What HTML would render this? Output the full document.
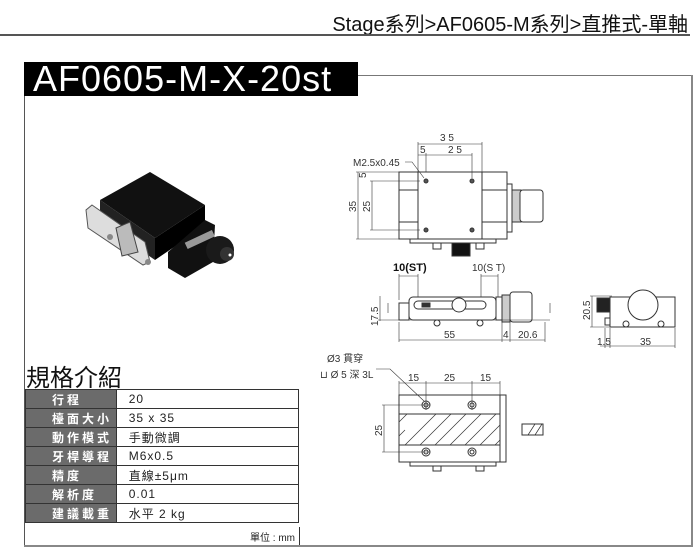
<!DOCTYPE html>
<html><head><meta charset="utf-8"><style>
body{margin:0;width:700px;height:553px;background:#fff;position:relative;overflow:hidden;font-family:"Liberation Sans","Noto Sans CJK TC",sans-serif}
.abs{position:absolute}
table{border-collapse:collapse}
td{height:18px;padding:0;font-size:12px;border:1px solid #333}
td.l{background:#6b6b6b;color:#fff;font-weight:bold;letter-spacing:3px;padding-left:26px;width:64px}
td.v{padding-left:12px;width:170px;color:#222;letter-spacing:1px}
</style></head><body>
<div class="abs" style="right:12px;top:8px;font-size:20px;color:#111">Stage系列&gt;AF0605-M系列&gt;直推式-單軸</div>
<div class="abs" style="left:0;top:34px;width:690px;height:2px;background:#555"></div>
<div class="abs" style="left:24px;top:62px;width:334px;height:34px;background:#000;color:#fff;font-size:36px;line-height:34px;padding-left:9px;box-sizing:border-box;letter-spacing:1px;white-space:nowrap;overflow:hidden">AF0605-M-X-20st</div>
<div class="abs" style="left:358px;top:75px;width:334px;height:1px;background:#777"></div>
<div class="abs" style="left:691px;top:75px;width:2px;height:472px;background:#888"></div>
<div class="abs" style="left:24px;top:96px;width:1px;height:451px;background:#555"></div>
<div class="abs" style="left:24px;top:545px;width:669px;height:2px;background:#888"></div>
<div class="abs" style="left:26px;top:358px;font-size:24px;color:#111">規格介紹</div>
<table class="abs" style="left:25px;top:389px;width:274px">
<tr><td class="l">行程</td><td class="v">20</td></tr>
<tr><td class="l">檯面大小</td><td class="v">35 x 35</td></tr>
<tr><td class="l">動作模式</td><td class="v">手動微調</td></tr>
<tr><td class="l">牙桿導程</td><td class="v">M6x0.5</td></tr>
<tr><td class="l">精度</td><td class="v">直線±5μm</td></tr>
<tr><td class="l">解析度</td><td class="v">0.01</td></tr>
<tr><td class="l">建議載重</td><td class="v">水平 2 kg</td></tr>
</table>
<div class="abs" style="left:25px;top:527px;width:274px;height:18px;border-right:1px solid #333"></div>
<div class="abs" style="left:250px;top:529px;font-size:10px;color:#222">單位 : mm</div>
<svg class="abs" style="left:0;top:0" width="700" height="553" font-family="Liberation Sans, sans-serif">
<!-- photo -->
<g>
<polygon points="100,200 150,172 205,205 155,238" fill="#111"/>
<polygon points="100,200 155,238 155,260 100,222" fill="#222"/>
<polygon points="155,238 205,205 205,226 155,260" fill="#000"/>
<polygon points="92,205 145,242 150,262 143,265 88,228 86,210" fill="#ddd" stroke="#555"/>
<polygon points="116,228 130,222 138,252 122,256" fill="#bbb" stroke="#444"/>
<circle cx="110" cy="237" r="3" fill="#888"/><circle cx="148" cy="262" r="3" fill="#888"/>
<polygon points="168,252 205,220 215,225 213,262 185,278 168,268" fill="#111"/>
<rect x="185" y="236" width="30" height="7" fill="#999" transform="rotate(-25 200 240)"/>
<ellipse cx="220" cy="250" rx="14" ry="14" fill="#1a1a1a"/>
<ellipse cx="227" cy="254" rx="7" ry="7" fill="#333"/>
<circle cx="230" cy="255" r="1.5" fill="#fff"/>
</g>
<g stroke="#333" fill="none" stroke-width="1">
<rect x="399" y="172" width="108" height="67" fill="#fff"/>
<rect x="418" y="172" width="64" height="67"/>
<line x1="399" y1="190" x2="418" y2="190"/><line x1="399" y1="222" x2="418" y2="222"/>
<line x1="482" y1="190" x2="507" y2="190"/><line x1="482" y1="222" x2="507" y2="222"/>
<rect x="507" y="184" width="5" height="48"/>
<rect x="512" y="190" width="9" height="32" fill="#ccc"/>
<rect x="520" y="190" width="23" height="32" rx="3" fill="#fff"/>
<rect x="410" y="239" width="86" height="4"/>
<rect x="433" y="243" width="8" height="6"/><rect x="476" y="243" width="8" height="6"/>
<rect x="452" y="243" width="18" height="13" fill="#111"/>
<g fill="#555"><circle cx="426" cy="181" r="2"/><circle cx="472" cy="181" r="2"/><circle cx="426" cy="230" r="2"/><circle cx="472" cy="230" r="2"/></g>
<g stroke-width="0.6"><line x1="418" y1="144" x2="482" y2="144"/><line x1="418" y1="142" x2="418" y2="172"/><line x1="482" y1="142" x2="482" y2="172"/>
<line x1="418" y1="155" x2="472" y2="155"/><line x1="426" y1="153" x2="426" y2="172"/><line x1="472" y1="153" x2="472" y2="178"/>
<line x1="358" y1="172" x2="358" y2="239"/><line x1="356" y1="172" x2="399" y2="172"/><line x1="356" y1="239" x2="399" y2="239"/>
<line x1="372" y1="181" x2="372" y2="230"/><line x1="370" y1="181" x2="420" y2="181"/><line x1="370" y1="230" x2="420" y2="230"/>
<polyline points="405,162 412,162 424,178"/></g>
<rect x="409" y="297" width="87" height="23" rx="4" fill="#fff"/>
<rect x="399" y="303" width="10" height="17"/>
<rect x="496" y="297" width="6" height="23"/>
<rect x="502" y="295" width="8" height="27" fill="#ccc"/>
<rect x="510" y="292" width="22" height="30" rx="3"/>
<rect x="414" y="301" width="72" height="8" rx="4"/>
<rect x="422" y="303" width="8" height="4" fill="#333"/>
<circle cx="459" cy="305" r="7" fill="#fff"/>
<circle cx="437" cy="323" r="3"/><circle cx="480" cy="323" r="3"/>
<g stroke-width="0.6"><line x1="399" y1="276" x2="418" y2="276"/><line x1="481" y1="276" x2="498" y2="276"/>
<line x1="399" y1="274" x2="399" y2="300"/><line x1="418" y1="274" x2="418" y2="297"/><line x1="481" y1="274" x2="481" y2="297"/><line x1="498" y1="274" x2="498" y2="297"/>
<line x1="380" y1="296" x2="380" y2="321"/><line x1="378" y1="320" x2="550" y2="320"/>
<line x1="399" y1="340" x2="545" y2="340"/><line x1="399" y1="322" x2="399" y2="342"/><line x1="502" y1="322" x2="502" y2="342"/><line x1="510" y1="322" x2="510" y2="342"/><line x1="545" y1="322" x2="545" y2="342"/>
<line x1="388" y1="303" x2="388" y2="313"/><line x1="550" y1="303" x2="550" y2="313"/></g>
<rect x="610" y="297" width="65" height="30" fill="#fff"/>
<circle cx="643" cy="305" r="15" fill="#fff"/>
<rect x="597" y="298" width="13" height="14" fill="#222"/>
<rect x="605" y="318" width="5" height="7"/>
<circle cx="626" cy="324" r="3"/><circle cx="661" cy="324" r="3"/>
<g stroke-width="0.6"><line x1="592" y1="296" x2="592" y2="327"/><line x1="590" y1="296" x2="612" y2="296"/><line x1="590" y1="327" x2="612" y2="327"/>
<line x1="600" y1="346" x2="675" y2="346"/><line x1="605" y1="328" x2="605" y2="348"/><line x1="610" y1="328" x2="610" y2="348"/><line x1="675" y1="328" x2="675" y2="348"/></g>
<rect x="399" y="395" width="107" height="67" fill="#fff"/>
<rect x="399" y="414" width="101" height="31"/>
<rect x="500" y="395" width="6" height="67"/>
<rect x="410" y="462" width="86" height="4"/>
<rect x="433" y="466" width="8" height="5"/><rect x="476" y="466" width="8" height="5"/>
<rect x="522" y="424" width="21" height="11"/>
<g stroke-width="0.7">
<path d="M405,445 L436,414 M420,445 L451,414 M435,445 L466,414 M450,445 L481,414 M465,445 L496,414 M480,445 L500,425 M495,445 L500,440 M399,436 L405,430 M399,422 L407,414"/>
<path d="M528,435 L535,424 M535,435 L542,424"/></g>
<g><circle cx="426" cy="405" r="4"/><circle cx="426" cy="405" r="2"/><circle cx="472" cy="405" r="4"/><circle cx="472" cy="405" r="2"/>
<circle cx="426" cy="452" r="4"/><circle cx="426" cy="452" r="2"/><circle cx="472" cy="452" r="4"/><circle cx="472" cy="452" r="2"/></g>
<g stroke-width="0.6"><line x1="399" y1="383" x2="500" y2="383"/><line x1="399" y1="381" x2="399" y2="395"/><line x1="426" y1="381" x2="426" y2="410"/><line x1="472" y1="381" x2="472" y2="410"/><line x1="500" y1="381" x2="500" y2="395"/>
<line x1="384" y1="405" x2="384" y2="452"/><line x1="382" y1="405" x2="430" y2="405"/><line x1="382" y1="452" x2="430" y2="452"/>
<polyline points="376,369 390,369 424,401"/></g>
</g>
<g font-size="10" fill="#333">
<text x="440" y="141">3 5</text><text x="448" y="153">2 5</text><text x="420" y="153">5</text>
<text x="353" y="166">M2.5x0.45</text>
<text x="356" y="212" transform="rotate(-90 356 212)">35</text><text x="370" y="212" transform="rotate(-90 370 212)">25</text>
<text x="366" y="178" transform="rotate(-90 366 178)">5</text>
<text x="393" y="271" font-weight="bold" font-size="11" fill="#111">10(ST)</text>
<text x="472" y="271">10(S T)</text>
<text x="378" y="326" transform="rotate(-90 378 326)">17.5</text>
<text x="444" y="338">55</text><text x="503" y="338">4</text><text x="518" y="338">20.6</text>
<text x="590" y="320" transform="rotate(-90 590 320)">20.5</text>
<text x="597" y="345">1.5</text><text x="640" y="345">35</text>
<text x="327" y="362">Ø3 貫穿</text><text x="320" y="378">⊔ Ø 5 深 3L</text>
<text x="408" y="381">15</text><text x="444" y="381">25</text><text x="480" y="381">15</text>
<text x="382" y="436" transform="rotate(-90 382 436)">25</text>
</g>
</svg>
</body></html>
